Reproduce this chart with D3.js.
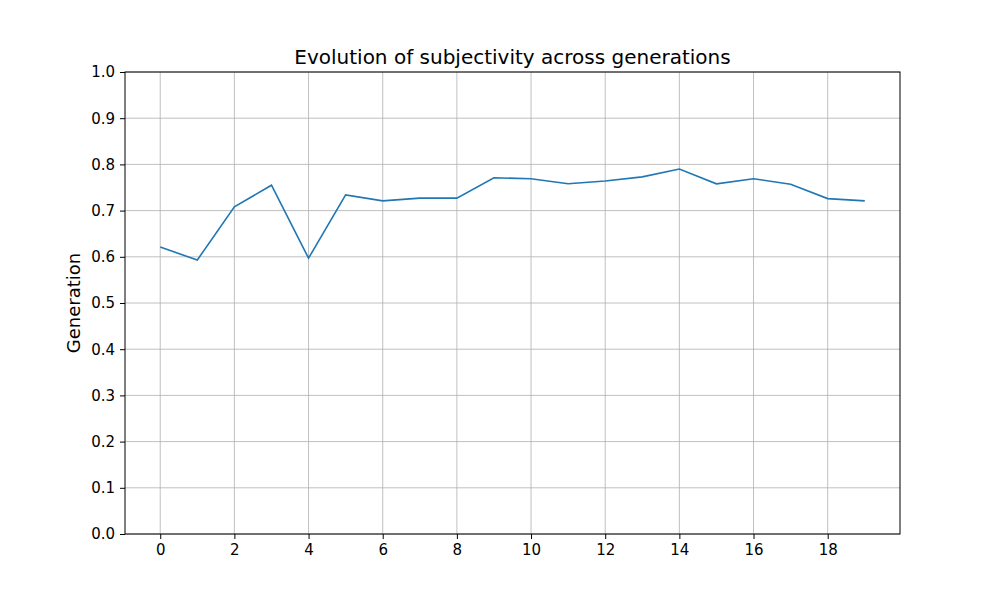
<!DOCTYPE html><html><head><script src="https://cdn.jsdelivr.net/npm/d3@7"></script>
<style>body{margin:0;background:#fff}text{font-family:"DejaVu Sans",sans-serif}</style></head><body>
<svg id="c" width="1000" height="600"></svg>
<script>
const generations=d3.range(20);
const subjectivity=[0.621,0.593,0.708,0.755,0.597,0.734,0.721,0.727,0.727,0.771,0.769,0.758,0.764,0.773,0.790,0.758,0.769,0.757,0.726,0.721];
const xTicks=[0,2,4,6,8,10,12,14,16,18];
const yTicks=d3.range(0,11).map(i=>i/10);
const svg=d3.select("#c");
const L=125,R=900,T=72,B=534;
const x=d3.scaleLinear().domain([-0.95,19.95]).range([L,R]);
const y=d3.scaleLinear().domain([0,1]).range([B,T]);
const g=svg.append("g");
g.selectAll(".gx").data(xTicks).join("line").attr("x1",d=>x(d)).attr("x2",d=>x(d)).attr("y1",T).attr("y2",B).attr("stroke","#b0b0b0").attr("stroke-width",0.8);
g.selectAll(".gy").data(yTicks).join("line").attr("y1",d=>y(d)).attr("y2",d=>y(d)).attr("x1",L).attr("x2",R).attr("stroke","#b0b0b0").attr("stroke-width",0.8);
const xa=svg.append("g").attr("transform",`translate(0,${B})`).call(d3.axisBottom(x).tickValues(xTicks).tickSize(5).tickPadding(5));
const ya=svg.append("g").attr("transform",`translate(${L},0)`).call(d3.axisLeft(y).tickValues(yTicks).tickFormat(d3.format(".1f")).tickSize(5).tickPadding(5));
[xa,ya].forEach(a=>{a.select(".domain").remove();a.selectAll("text").attr("font-size",15).attr("fill","#000");a.selectAll("line").attr("stroke","#000");});
svg.append("rect").attr("x",L).attr("y",T).attr("width",R-L).attr("height",B-T).attr("fill","none").attr("stroke","#000").attr("stroke-width",1);
svg.append("path").datum(subjectivity).attr("fill","none").attr("stroke","#1f77b4").attr("stroke-width",1.6)
 .attr("d",d3.line().x((d,i)=>x(generations[i])).y(d=>y(d)));
svg.append("text").attr("x",(L+R)/2).attr("y",64).attr("text-anchor","middle").attr("font-size",20).text("Evolution of subjectivity across generations");
svg.append("text").attr("transform",`translate(80,${(T+B)/2}) rotate(-90)`).attr("text-anchor","middle").attr("font-size",18).text("Generation");
</script></body></html>
